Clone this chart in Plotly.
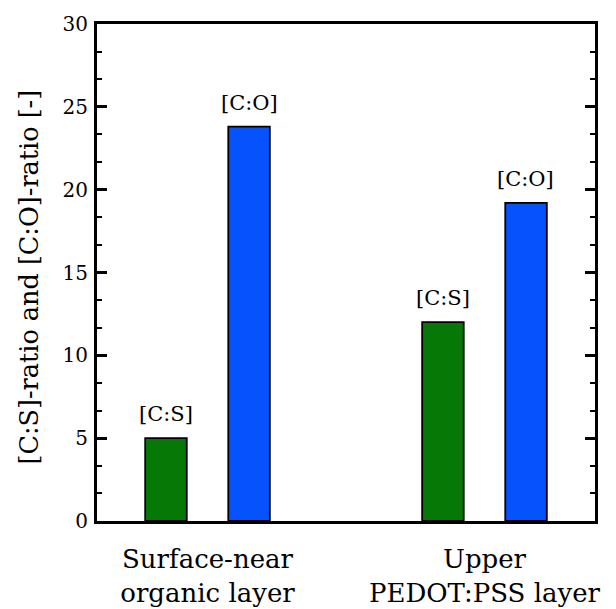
import plotly.graph_objects as go

categories = ["Surface-near<br>organic layer", "Upper<br>PEDOT:PSS layer"]
cs_ratio = [5.0, 12.0]
co_ratio = [23.8, 19.2]
series_labels = ["[C:S]", "[C:O]"]
y_ticks = [0, 5, 10, 15, 20, 25, 30]
y_title = "[C:S]-ratio and [C:O]-ratio [-]"

FONT = "DejaVu Serif"
GREEN = "#067806"
BLUE = "#0652fd"

fig = go.Figure()
for vals, name, col in [(cs_ratio, series_labels[0], GREEN), (co_ratio, series_labels[1], BLUE)]:
    fig.add_trace(go.Bar(
        x=categories, y=vals, name=name,
        marker=dict(color=col, line=dict(color="black", width=1.8)),
        showlegend=False,
    ))

# labels above bars
for i, cat in enumerate(categories):
    for vals, name, shift in [(cs_ratio, series_labels[0], -41.5), (co_ratio, series_labels[1], 41.5)]:
        fig.add_annotation(x=cat, y=vals[i], text=name, showarrow=False,
                           xshift=shift, yshift=10, yanchor="bottom",
                           font=dict(family=FONT, size=21, color="black"))

# y-axis title as rotated annotation
fig.add_annotation(xref="paper", yref="paper", x=0, y=0.5, xshift=-69, yshift=-5,
                   text=y_title, textangle=-90, showarrow=False,
                   xanchor="center", yanchor="middle",
                   font=dict(family=FONT, size=25.5, color="black"))

fig.update_layout(
    width=616, height=609,
    margin=dict(l=97, r=21, t=24, b=88, autoexpand=False),
    paper_bgcolor="white", plot_bgcolor="white",
    barmode="group", bargap=0.4, bargroupgap=0.5,
    font=dict(family=FONT, color="black"),
)
fig.update_xaxes(
    range=[-0.399, 1.399], showline=True, linecolor="black", linewidth=3,
    mirror=True, ticks="", showgrid=False, tickfont=dict(family=FONT, size=26),
    ticklabelstandoff=13, automargin=False,
)
fig.update_yaxes(
    range=[0, 30], tickvals=y_ticks, showline=True, linecolor="black", linewidth=3,
    mirror="allticks", ticks="inside", ticklen=10, tickwidth=2.5, tickcolor="black",
    minor=dict(dtick=5/3, ticks="inside", ticklen=5, tickwidth=2, tickcolor="black", showgrid=False),
    showgrid=False, zeroline=False, tickfont=dict(family=FONT, size=20),
    ticklabelstandoff=2, automargin=False,
)

fig.write_html("out.html")
